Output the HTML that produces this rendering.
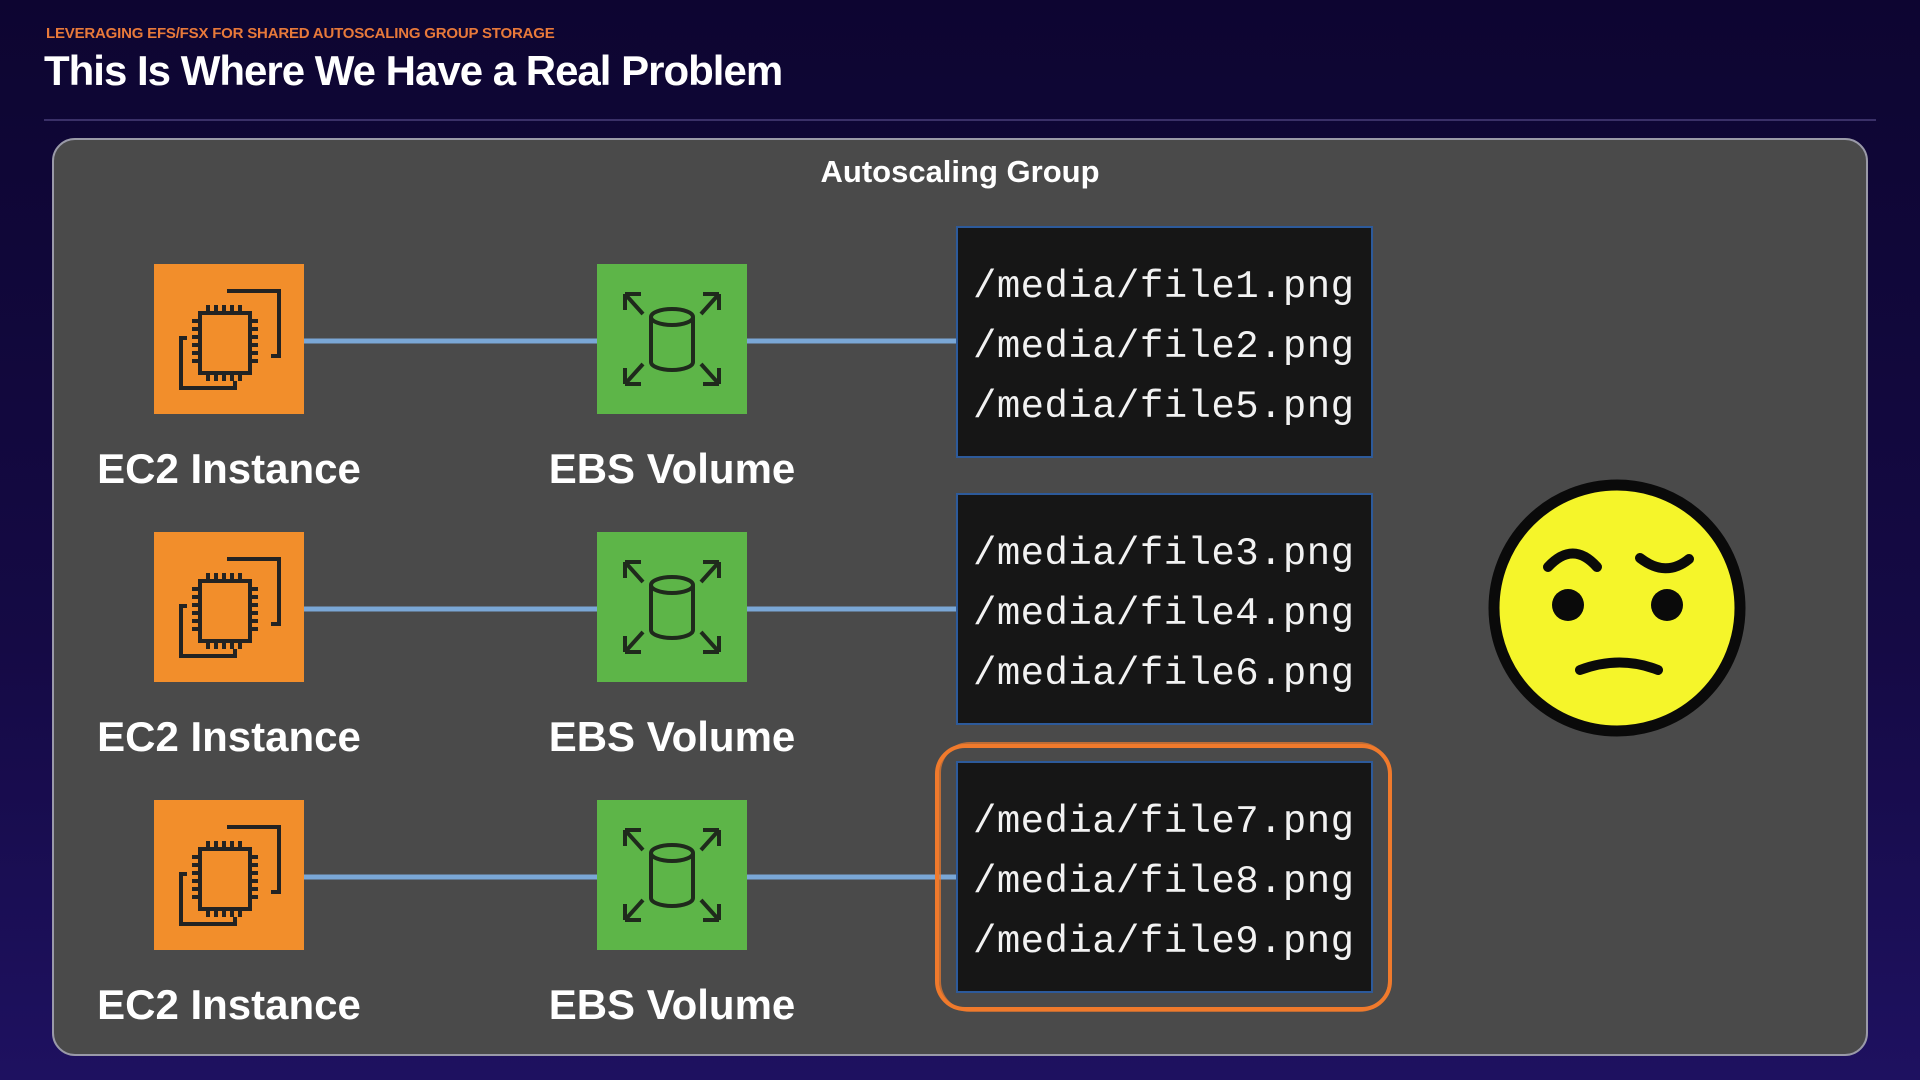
<!DOCTYPE html>
<html><head><meta charset="utf-8"><style>
html,body{margin:0;padding:0}
body{width:1920px;height:1080px;overflow:hidden;background:linear-gradient(180deg,#0d0531 0%,#150a45 60%,#1e1160 100%);font-family:"Liberation Sans",sans-serif;position:relative}
.abs{position:absolute}
</style></head><body>
<div class="abs" style="left:46px;top:25px;font-size:15px;font-weight:bold;color:#e8793a;letter-spacing:-0.2px">LEVERAGING EFS/FSX FOR SHARED AUTOSCALING GROUP STORAGE</div>
<div class="abs" style="left:44px;top:47px;font-size:42px;font-weight:bold;color:#fff;letter-spacing:-1px">This Is Where We Have a Real Problem</div>
<div class="abs" style="left:44px;top:119px;width:1832px;height:2px;background:#3a3068"></div>
<svg class="abs" style="left:0;top:0" width="1920" height="1080">
<rect x="53" y="139" width="1814" height="916" rx="22" fill="#4a4a4a" stroke="#9a9aa8" stroke-width="2"/>
<text x="960" y="182" text-anchor="middle" font-family="Liberation Sans" font-weight="bold" font-size="31" fill="#fff">Autoscaling Group</text>
<g font-family="Liberation Sans" font-weight="bold" font-size="42" fill="#fff" text-anchor="middle">
<text x="229" y="483">EC2 Instance</text><text x="672" y="483">EBS Volume</text>
<text x="229" y="751">EC2 Instance</text><text x="672" y="751">EBS Volume</text>
<text x="229" y="1019">EC2 Instance</text><text x="672" y="1019">EBS Volume</text>
</g>
<g stroke="#7aa7d6" stroke-width="5">
<line x1="304" y1="341" x2="956" y2="341"/><line x1="304" y1="609" x2="956" y2="609"/><line x1="304" y1="877" x2="956" y2="877"/>
</g>
<defs>
<g id="ec2">
<rect width="150" height="150" fill="#f28e2b"/>
<g fill="none" stroke="#232323" stroke-width="4">
<path d="M73 27 H125 V92 H117"/><path d="M33 74 H27 V124 H81 V117"/>
<rect x="46" y="49" width="50" height="60"/>
<path d="M54 49v-8M62 49v-8M70 49v-8M78 49v-8M86 49v-8M54 109v8M62 109v8M70 109v8M78 109v8M86 109v8M46 57h-8M46 65h-8M46 73h-8M46 81h-8M46 89h-8M46 97h-8M96 57h8M96 65h8M96 73h8M96 81h8M96 89h8M96 97h8"/>
</g></g>
<g id="ebs">
<rect width="150" height="150" fill="#5db548"/>
<g fill="none" stroke="#1f2a1c" stroke-width="4">
<ellipse cx="75" cy="53" rx="21" ry="8"/><path d="M54 53 V98 A21 8 0 0 0 96 98 V53"/>
<path d="M46 50 L28 30 M28 30 v16 M28 30 h16"/><path d="M104 50 L122 30 M122 30 v16 M122 30 h-16"/>
<path d="M46 100 L28 120 M28 120 v-16 M28 120 h16"/><path d="M104 100 L122 120 M122 120 v-16 M122 120 h-16"/>
</g></g>
</defs>
<use href="#ec2" x="154" y="264"/><use href="#ec2" x="154" y="532"/><use href="#ec2" x="154" y="800"/>
<use href="#ebs" x="597" y="264"/><use href="#ebs" x="597" y="532"/><use href="#ebs" x="597" y="800"/>
<g fill="#161616" stroke="#2d5a9a" stroke-width="2">
<rect x="957" y="227" width="415" height="230"/><rect x="957" y="494" width="415" height="230"/><rect x="957" y="762" width="415" height="230"/>
</g>
<g font-family="Liberation Mono" font-size="39" fill="#f2f2f2" textLength="382">
<text x="973" y="297" textLength="381">/media/file1.png</text><text x="973" y="357" textLength="381">/media/file2.png</text><text x="973" y="417" textLength="381">/media/file5.png</text>
<text x="973" y="564" textLength="381">/media/file3.png</text><text x="973" y="624" textLength="381">/media/file4.png</text><text x="973" y="684" textLength="381">/media/file6.png</text>
<text x="973" y="832" textLength="381">/media/file7.png</text><text x="973" y="892" textLength="381">/media/file8.png</text><text x="973" y="952" textLength="381">/media/file9.png</text>
</g>
<rect x="937" y="746" width="453" height="263" rx="28" fill="none" stroke="#f07a2c" stroke-width="4"/>
<rect x="940" y="743" width="449" height="268" rx="30" fill="none" stroke="#f07a2c" stroke-width="2" opacity="0.7"/>
<circle cx="1617" cy="608" r="123" fill="#f5f52a" stroke="#0a0a0a" stroke-width="11"/>
<g fill="none" stroke="#0a0a0a" stroke-width="10" stroke-linecap="round">
<path d="M1548 567 Q1573 540 1597 567"/><path d="M1640 558 Q1666 578 1689 559"/>
<path d="M1580 670 Q1620 655 1658 670"/>
</g>
<circle cx="1568" cy="605" r="16" fill="#0a0a0a"/><circle cx="1667" cy="605" r="16" fill="#0a0a0a"/>
</svg>
</body></html>
